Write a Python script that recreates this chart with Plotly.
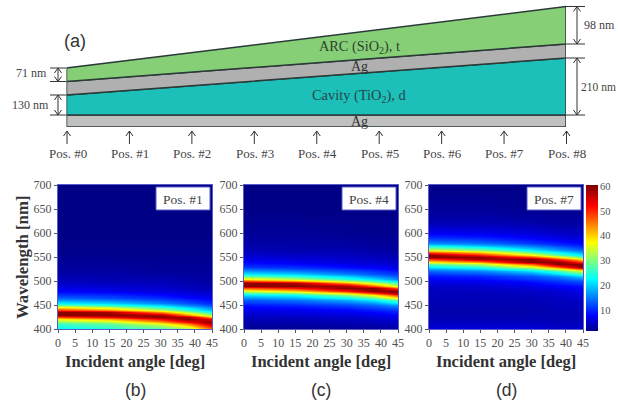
import plotly.graph_objects as go

W, H = 618, 407
SERIF = "Liberation Serif"
SANS = "Liberation Sans"
TXT = "#444444"

# ---------- data ----------
positions = [0, 1, 2, 3, 4, 5, 6, 7, 8]
position_labels = ["Pos. #%d" % p for p in positions]
ends = [0, 8]
# schematic layer boundaries (drawing height) at Pos. #0 and Pos. #8
base = [0, 0]
ag_bottom_top = [12, 12]
cavity_top = [32, 69]
ag_top_top = [45.5, 83]
arc_top = [59, 120.5]

angles = [0, 15, 30, 38, 45]

wl_b = [400, 405, 410, 415, 420, 425, 430, 435, 440, 445, 450, 455, 460, 465, 470, 480, 490, 500, 520, 550, 600, 700]
z_b = [
    [22, 24, 27, 31, 45],
    [24, 26, 30, 36, 50],
    [26, 28, 35, 44, 56],
    [30, 33, 43, 52, 60],
    [38, 42, 52, 60, 53],
    [48, 53, 60, 58, 42],
    [60, 60, 58, 44, 31],
    [60, 58, 44, 33, 24],
    [49, 44, 33, 25, 19],
    [38, 33, 25, 20, 15],
    [28, 25, 20, 15.5, 12],
    [22, 20, 15.5, 12.5, 10],
    [17, 15.5, 12.5, 10.5, 8.5],
    [14, 12.5, 10.5, 8.5, 7],
    [11, 10.5, 8.5, 7, 6],
    [8, 7, 6, 5.5, 4.5],
    [6, 5.5, 5, 4, 3.5],
    [4.5, 4, 4, 3.5, 3],
    [3, 3, 2.5, 2.5, 2.5],
    [2, 2, 2, 2, 2],
    [1.5, 1.5, 1.5, 1.5, 1.5],
    [1.5, 1.5, 1.5, 1.5, 1.5],
]

wl_c = [400, 420, 430, 440, 450, 455, 460, 465, 470, 475, 480, 485, 490, 495, 500, 505, 510, 515, 520, 525, 530, 540, 550, 560, 580, 600, 650, 700]
z_c = [
    [2, 2, 2.5, 2.5, 3],
    [4, 4, 4.5, 5, 6],
    [5, 5.5, 6, 6.5, 8],
    [6.5, 7, 8, 9.5, 11],
    [9, 10, 12, 14, 17],
    [11, 12, 14.5, 17, 22],
    [13, 14.5, 18, 22, 28],
    [16, 18, 23, 28, 38],
    [21, 23, 30, 38, 49],
    [27, 30, 40, 49, 60],
    [35, 40, 51, 60, 60],
    [47, 51, 60, 60, 47],
    [60, 60, 58, 47, 35],
    [60, 58, 44, 35, 27],
    [49, 44, 33, 27, 21],
    [38, 33, 25, 21, 16],
    [28, 25, 20, 16, 13],
    [22, 20, 15.5, 13, 11],
    [17, 15.5, 12.5, 11, 9],
    [14, 12.5, 10.5, 9, 7.5],
    [11, 10.5, 8.5, 7.5, 6.5],
    [8, 7, 6, 5.5, 5],
    [6, 5.5, 5, 4.5, 4],
    [4.5, 4, 4, 3.5, 3],
    [3, 3, 3, 2.5, 2.5],
    [2.5, 2.5, 2, 2, 2],
    [1.5, 1.5, 1.5, 1.5, 1.5],
    [1.5, 1.5, 1.5, 1.5, 1.5],
]

wl_d = [400, 420, 440, 460, 480, 490, 500, 505, 510, 515, 520, 525, 530, 535, 540, 545, 550, 555, 560, 565, 570, 575, 580, 590, 600, 620, 650, 700]
z_d = [
    [6, 6, 6, 5, 5],
    [4, 4, 4, 4, 4],
    [3.5, 3.5, 3.5, 4, 4],
    [4, 4, 4, 4.5, 5],
    [4.5, 4.5, 5, 5.5, 7],
    [5, 5.5, 6.5, 8, 9],
    [6.5, 7, 9, 11, 13],
    [8, 8.5, 11, 13, 16],
    [9, 10, 13, 16, 21],
    [11, 12.5, 16, 21, 27],
    [14, 15.5, 21, 27, 35],
    [17, 20, 27, 35, 47],
    [22, 25, 35, 47, 60],
    [28, 33, 47, 60, 60],
    [38, 44, 60, 60, 49],
    [49, 58, 60, 49, 38],
    [60, 60, 49, 38, 28],
    [60, 51, 38, 28, 22],
    [47, 40, 28, 22, 17],
    [35, 30, 22, 17, 14],
    [27, 23, 17, 14, 11],
    [21, 18, 14, 11, 9.5],
    [16, 14.5, 11, 9.5, 8],
    [11, 10, 8, 6.5, 6],
    [7.5, 7, 6, 5, 4.5],
    [4, 4, 3.5, 3, 3],
    [2.5, 2.5, 2, 2, 2],
    [1.5, 1.5, 1.5, 1.5, 1.5],
]

x_ticks = [0, 5, 10, 15, 20, 25, 30, 35, 40, 45]
y_ticks = [400, 450, 500, 550, 600, 650, 700]
cbar_ticks = [10, 20, 30, 40, 50, 60]
cbar_levels = [1.5, 60.5]
panel_labels = ["Pos. #1", "Pos. #4", "Pos. #7"]
letters = ["(b)", "(c)", "(d)"]

JET = [[0, "rgb(0,0,135)"], [0.11, "rgb(0,0,255)"], [0.36, "rgb(0,255,255)"],
       [0.61, "rgb(255,255,0)"], [0.86, "rgb(255,0,0)"], [1, "rgb(128,0,0)"]]

# ---------- layout helpers (pixel -> paper) ----------
def fx(p):
    return p / W

def fy(p):
    return 1 - p / H

fig = go.Figure()

# ---------- schematic ----------
X0, X1 = 66.5, 566
fig.update_layout(
    xaxis=dict(domain=[fx(X0), fx(X1)], range=[0, 8], visible=False, fixedrange=True),
    yaxis=dict(domain=[fy(127), fy(0)], range=[0, 127], visible=False, fixedrange=True),
    xaxis5=dict(domain=[0, 1], range=[0, W], visible=False, fixedrange=True, anchor="y5"),
    yaxis5=dict(domain=[0, 1], range=[H, 0], visible=False, fixedrange=True, anchor="x5"),
)

def layer(lo, hi, color):
    fig.add_trace(go.Scatter(
        x=ends + ends[::-1] + ends[:1], y=lo + hi[::-1] + lo[:1],
        mode="lines", fill="toself", fillcolor=color,
        line=dict(color="#2b3a38", width=1.5), cliponaxis=False,
        hoverinfo="skip", showlegend=False, xaxis="x", yaxis="y"))

layer(base, ag_bottom_top, "#c0c0c0")
layer(ag_bottom_top, cavity_top, "#1dbfb9")
layer(cavity_top, ag_top_top, "#b0b0b0")
layer(ag_top_top, arc_top, "#86cf77")

ann = []
shp = []

def text(px, py, s, size=12, font=SERIF, color=TXT, anchor="center"):
    ann.append(dict(x=fx(px), y=fy(py), xref="paper", yref="paper", text=s, showarrow=False,
                    font=dict(family=font, size=size, color=color), xanchor=anchor, yanchor="middle",
                    borderpad=0))

# arrows drawn as plain polylines on a pixel-scaled overlay axis
gx, gy = [], []

def seg(xs, ys):
    gx.extend(xs + [None])
    gy.extend(ys + [None])

def up_head(px, py):
    seg([px - 3.5, px, px + 3.5], [py + 5, py, py + 5])

def down_head(px, py):
    seg([px - 3.5, px, px + 3.5], [py - 5, py, py - 5])

for p, lab in zip(positions, position_labels):
    px = X0 + (X1 - X0) * p / 8
    text(px + 1, 153, lab, 13)
    seg([px + 0.5, px + 0.5], [131, 144])
    up_head(px + 0.5, 131)

text(359, 47, "ARC (SiO<sub>2</sub>), t", 14.3, color="#2f3f30")
text(359, 66, "Ag", 14, color="#333333")
text(359, 96, "Cavity (TiO<sub>2</sub>), d", 14.4, color="#23484a")
text(359, 121, "Ag", 14, color="#333333")
text(75, 41, "(a)", 18, SANS, "#333333")

def dbl(px, y0, y1):
    seg([px, px], [y0, y1])
    up_head(px, y0)
    down_head(px, y1)

for py in (68, 81.5, 95, 115):
    seg([50, 66], [py, py])
for py in (6.5, 44, 58, 115):
    seg([566, 585], [py, py])
dbl(58, 68, 81.5)
dbl(58, 95, 115)
dbl(577, 6.5, 44)
dbl(577, 58, 115)
fig.add_trace(go.Scatter(x=gx, y=gy, mode="lines", line=dict(color="#333333", width=1),
                         hoverinfo="skip", showlegend=False, xaxis="x5", yaxis="y5"))
text(31, 73, "71 nm", 12)
text(30, 105, "130 nm", 12)
text(583, 25, "98 nm", 12, anchor="left")
text(617, 87, "210 nm", 11.5, anchor="right")

# ---------- heat maps ----------
lefts = [58, 244, 429]
wl_all = [wl_b, wl_c, wl_d]
z_all = [z_b, z_c, z_d]
for i, (L, wl, z) in enumerate(zip(lefts, wl_all, z_all)):
    n = i + 2
    R = L + 154
    ax_common = dict(ticks="outside", ticklen=3, tickwidth=1, tickcolor="#555555",
                     tickfont=dict(family=SERIF, size=12, color="#505050"),
                     showline=True, mirror=True, linecolor="#5a5ac8", linewidth=1,
                     showgrid=False, zeroline=False, fixedrange=True)
    fig.update_layout({
        "xaxis%d" % n: dict(domain=[fx(L), fx(R)], range=[0, 45], tickvals=x_ticks,
                            anchor="y%d" % n, **ax_common),
        "yaxis%d" % n: dict(domain=[fy(329), fy(185)], range=[400, 700], tickvals=y_ticks,
                            anchor="x%d" % n, **ax_common),
    })
    fig.add_trace(go.Heatmap(x=angles, y=wl, z=z, colorscale=JET, zmin=1.5, zmax=60.5, zsmooth="best",
                             xaxis="x%d" % n, yaxis="y%d" % n, hoverinfo="skip", showscale=False))
    # label box
    shp.append(dict(type="rect", xref="paper", yref="paper", x0=fx(R - 56), x1=fx(R - 2), y0=fy(210), y1=fy(187),
                    fillcolor="white", line=dict(color="#5a5ac8", width=1), layer="above"))
    text(R - 29, 199, panel_labels[i], 13.5)
    text(L + 77, 361, "<b>Incident angle [deg]</b>", 16.5, color="#333333")
    text(L + 77, 390, letters[i], 17.5, SANS, "#333333")

# colour scale strip, drawn as a small heat map on its own axes
fig.update_layout(
    xaxis6=dict(domain=[fx(586), fx(598)], range=[0, 1], visible=False, fixedrange=True, anchor="y6"),
    yaxis6=dict(domain=[fy(331), fy(185)], range=[1.5, 60.5], side="right", anchor="x6", tickvals=cbar_ticks,
                ticks="", showline=False, showgrid=False, zeroline=False, fixedrange=True, ticklabelstandoff=1,
                tickfont=dict(family=SERIF, size=10.5, color="#505050")),
)
fig.add_trace(go.Heatmap(x=[0, 1], y=cbar_levels, z=[[v, v] for v in cbar_levels], colorscale=JET, zmin=1.5,
                         zmax=60.5, zsmooth="best", xaxis="x6", yaxis="y6", hoverinfo="skip", showscale=False))

ann.append(dict(x=fx(22), y=fy(257), xref="paper", yref="paper", text="<b>Wavelength [nm]</b>", showarrow=False,
                textangle=-90, font=dict(family=SERIF, size=16.8, color="#333333"),
                xanchor="center", yanchor="middle"))

fig.update_layout(width=W, height=H, margin=dict(l=0, r=0, t=0, b=0, autoexpand=False), paper_bgcolor="white",
                  plot_bgcolor="rgba(0,0,0,0)", showlegend=False, annotations=ann, shapes=shp)

fig.write_html("out.html", config={"displayModeBar": False},
               post_script="document.body.style.margin='0';")
